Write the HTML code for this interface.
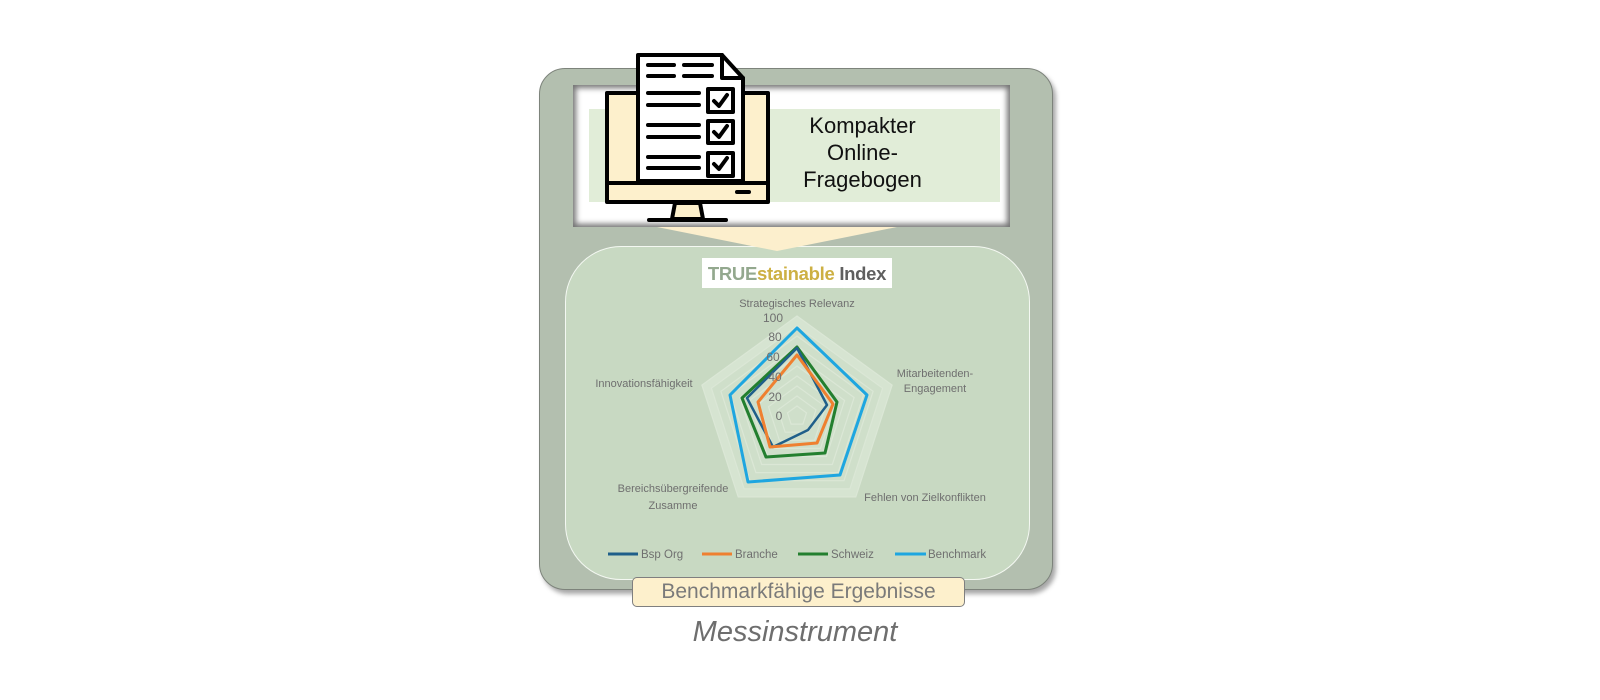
<!DOCTYPE html>
<html><head><meta charset="utf-8"><style>
html,body{margin:0;padding:0;background:#fff;}
body{width:1600px;height:700px;position:relative;overflow:hidden;font-family:"Liberation Sans",sans-serif;}
.abs{position:absolute;}
</style></head><body>
<!-- outer frame -->
<div class="abs" style="left:539px;top:68px;width:512px;height:520px;background:#b3bfaf;border:1.5px solid #7d837b;border-radius:26px;box-shadow:3px 4px 5px rgba(0,0,0,0.35);"></div>
<!-- white panel -->
<div class="abs" style="left:573px;top:85px;width:437px;height:142px;background:#fff;box-shadow:inset 0 0 6px 3px rgba(0,0,0,0.55);"></div>
<div class="abs" style="left:589px;top:109px;width:411px;height:93px;background:#e1edd8;"></div>
<div class="abs" style="left:800px;top:112px;width:125px;text-align:center;font-size:22px;line-height:27px;color:#111;">Kompakter<br>Online-<br>Fragebogen</div>
<!-- inner panel -->
<div class="abs" style="left:565px;top:246px;width:463px;height:332px;background:#c8d9c2;border:1.5px solid #f4f8f2;border-radius:56px;"></div>
<svg class="abs" style="left:0;top:0" width="1600" height="700" viewBox="0 0 1600 700">
  <!-- arrow -->
  <polygon points="657,227 897,227 777,251" fill="#fcefcd"/>
  <!-- monitor -->
  <g stroke="#000" stroke-width="4" stroke-linejoin="round" stroke-linecap="round">
    <rect x="607" y="93" width="161" height="109" fill="#fdf0cc"/>
    <line x1="607" y1="183" x2="768" y2="183"/>
    <line x1="737" y1="192" x2="749" y2="192"/>
    <polygon points="675,203 700,203 703,219 672,219" fill="#fdf0cc"/>
    <line x1="649" y1="220" x2="726" y2="220"/>
    <polygon points="638,55 722,55 743,78 743,181 638,181" fill="#fff"/>
    <polyline points="722,55 722,78 743,78" fill="none"/>
    <line x1="648" y1="65" x2="674" y2="65"/><line x1="684" y1="65" x2="712" y2="65"/>
    <line x1="648" y1="76" x2="674" y2="76"/><line x1="684" y1="76" x2="712" y2="76"/>
    <line x1="648" y1="93" x2="699" y2="93"/><line x1="648" y1="105" x2="699" y2="105"/>
    <line x1="648" y1="125" x2="699" y2="125"/><line x1="648" y1="137" x2="699" y2="137"/>
    <line x1="648" y1="157" x2="699" y2="157"/><line x1="648" y1="168" x2="699" y2="168"/>
    <rect x="708" y="89" width="25" height="23" fill="#fff"/>
    <rect x="708" y="121" width="25" height="22" fill="#fff"/>
    <rect x="708" y="153" width="25" height="23" fill="#fff"/>
    <polyline points="714,101 719,106 727,95" fill="none"/>
    <polyline points="714,132 719,137 727,126" fill="none"/>
    <polyline points="714,164 719,169 727,158" fill="none"/>
  </g>
  <!-- title -->
  <rect x="702" y="258" width="190" height="30" fill="#fff"/>
  <text x="797" y="280" text-anchor="middle" font-size="18.5" font-weight="bold" letter-spacing="-0.3" font-family="Liberation Sans, sans-serif"><tspan fill="#93a88e">TRUE</tspan><tspan fill="#cdb043">stainable</tspan><tspan fill="#5f5f5f"> Index</tspan></text>
  <!-- radar grid -->
  <g id="grid"></g>
  <g fill="none" stroke="#dbe7d6" stroke-width="1.2">
    <polygon points="797,316 892.1,385.1 855.8,496.9 738.2,496.9 701.9,385.1" fill="#d6e4d1"/>
    <polygon points="797,326 882.6,388.2 849.9,488.8 744.1,488.8 711.4,388.2" fill="#cfdfca"/>
    <polygon points="797,336 873.1,391.3 844.0,480.7 750.0,480.7 720.9,391.3"/>
    <polygon points="797,346 863.6,394.4 838.1,472.6 755.9,472.6 730.4,394.4"/>
    <polygon points="797,356 854.1,397.5 832.3,464.5 761.7,464.5 739.9,397.5"/>
    <polygon points="797,366 844.6,400.5 826.4,456.5 767.6,456.5 749.4,400.5"/>
    <polygon points="797,376 835.0,403.6 820.5,448.4 773.5,448.4 759.0,403.6"/>
    <polygon points="797,386 825.5,406.7 814.6,440.3 779.4,440.3 768.5,406.7"/>
    <polygon points="797,396 816.0,409.8 808.8,432.2 785.2,432.2 778.0,409.8"/>
    <polygon points="797,406 806.5,412.9 802.9,424.1 791.1,424.1 787.5,412.9"/>
  </g>
  <!-- series -->
  <g fill="none" stroke-width="3" stroke-linejoin="round">
    <polygon points="797,328 867,395 840,475 748,482 730,395" stroke="#1ea6e0"/>
    <polygon points="797,347 837,402 825,453 766,457 742,398" stroke="#237f2f"/>
    <polygon points="797,348 827,405 808,430 773,447 747,398" stroke="#1f5f8a" stroke-width="2.5"/>
    <polygon points="797,355 833,404 817,443 770,447 758,402" stroke="#ef8030"/>
  </g>
  <!-- tick labels -->
  <g font-size="12" fill="#6f6f6f" text-anchor="middle" font-family="Liberation Sans, sans-serif">
    <text x="773" y="322">100</text><text x="775" y="341">80</text><text x="773" y="361">60</text>
    <text x="775" y="381">40</text><text x="775" y="401">20</text><text x="779" y="420">0</text>
  </g>
  <g font-size="11" fill="#6f6f6f" font-family="Liberation Sans, sans-serif">
    <text x="797" y="307" text-anchor="middle">Strategisches Relevanz</text>
    <text x="935" y="377" text-anchor="middle">Mitarbeitenden-</text>
    <text x="935" y="392" text-anchor="middle">Engagement</text>
    <text x="925" y="501" text-anchor="middle">Fehlen von Zielkonflikten</text>
    <text x="673" y="492" text-anchor="middle">Bereichsübergreifende</text>
    <text x="673" y="509" text-anchor="middle">Zusamme</text>
    <text x="644" y="387" text-anchor="middle">Innovationsfähigkeit</text>
  </g>
  <!-- legend -->
  <g stroke-width="3">
    <line x1="608" y1="554" x2="638" y2="554" stroke="#1f5f8a"/>
    <line x1="702" y1="554" x2="732" y2="554" stroke="#ef8030"/>
    <line x1="798" y1="554" x2="828" y2="554" stroke="#237f2f"/>
    <line x1="895" y1="554" x2="926" y2="554" stroke="#1ea6e0"/>
  </g>
  <g font-size="11.5" fill="#6f6f6f" font-family="Liberation Sans, sans-serif">
    <text x="641" y="558">Bsp Org</text>
    <text x="735" y="558">Branche</text>
    <text x="831" y="558">Schweiz</text>
    <text x="928" y="558">Benchmark</text>
  </g>
</svg>
<!-- bottom label -->
<div class="abs" style="left:632px;top:577px;width:331px;height:28px;background:#fdf0cc;border:1.5px solid #7f7f7f;border-radius:5px;text-align:center;font-size:21px;line-height:28px;color:#7a7a7a;">Benchmarkfähige Ergebnisse</div>
<div class="abs" style="left:600px;top:614px;width:390px;text-align:center;font-size:29px;font-style:italic;color:#6e6e6e;line-height:36px;">Messinstrument</div>
</body></html>
